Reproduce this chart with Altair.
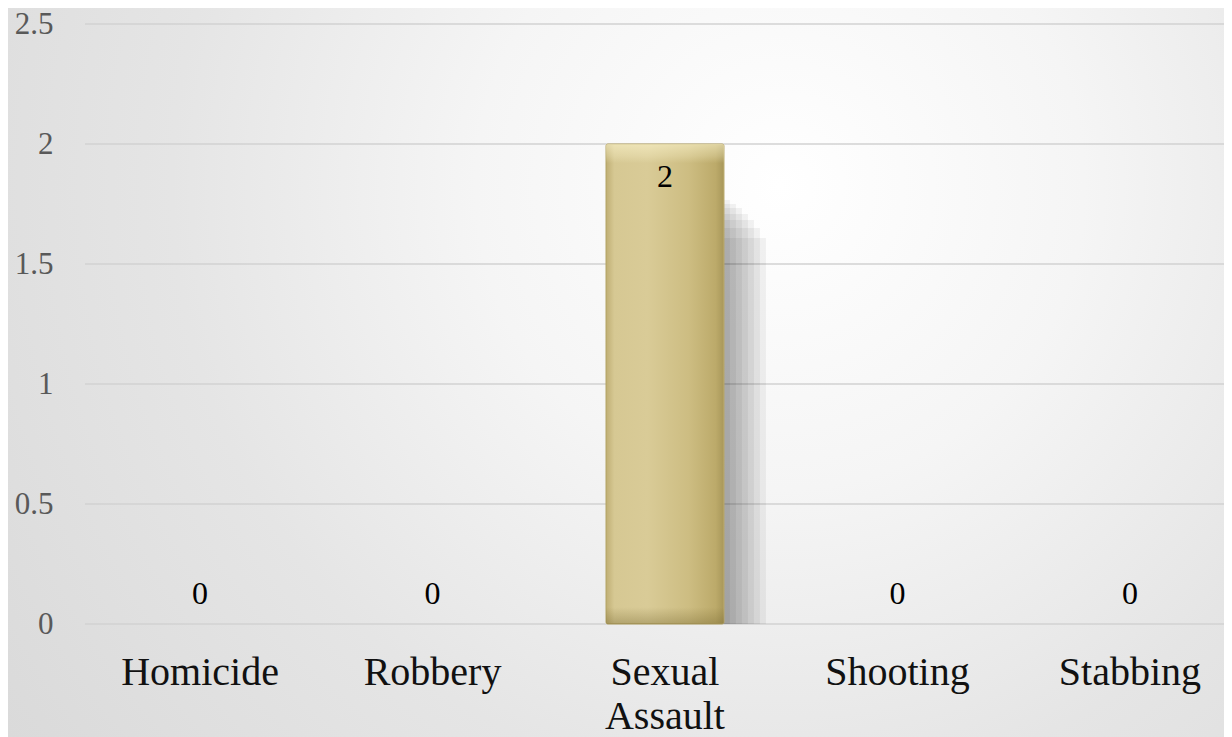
import altair as alt
import pandas as pd

categories = ["Homicide", "Robbery", "Sexual Assault", "Shooting", "Stabbing"]
counts = [0, 0, 2, 0, 0]
y_ticks = [0, 0.5, 1, 1.5, 2, 2.5]

df = pd.DataFrame({"category": categories, "count": counts})
ticks_df = pd.DataFrame({"tick": y_ticks})

W, H = 1139, 600
FONT = "Liberation Serif"

x_enc = alt.X(
    "category:N",
    sort=categories,
    scale=alt.Scale(paddingInner=0.4925, paddingOuter=0.196, align=0.615),
    axis=alt.Axis(
        title=None, labelFont=FONT, labelFontSize=40, labelColor="#111111",
        labelAngle=0, labelPadding=28, labelLineHeight=44,
        labelExpr="split(datum.label, ' ')", domain=False, ticks=False,
        grid=False, labelLimit=400, labelOverlap=False, labelBaseline="top",
        zindex=1,
    ),
)
y_scale = alt.Scale(domain=[0, 2.5])
y_axis = alt.Axis(
    title=None, values=y_ticks, format="~g", labelFont=FONT,
    labelFontSize=31, labelColor="#595959", labelPadding=32,
    domain=False, ticks=False, grid=False, zindex=1,
)
y_enc = alt.Y("count:Q", scale=y_scale, axis=y_axis)

radial = alt.RadialGradient(
    gradient="radial",
    stops=[
        alt.GradientStop(offset=0, color="#ffffff"),
        alt.GradientStop(offset=0.25, color="#f5f5f5"),
        alt.GradientStop(offset=0.5, color="#e5e5e5"),
        alt.GradientStop(offset=0.75, color="#dbdbdb"),
        alt.GradientStop(offset=1, color="#d3d3d3"),
    ],
    x1=0.635, y1=0.346, r1=0, x2=0.635, y2=0.346, r2=1,
)

bg = alt.Chart(alt.Data(values=[{"a": 1}])).mark_rect(fill=radial).encode(
    x=alt.value(-77), x2=alt.value(W), y=alt.value(-16), y2=alt.value(H + 113)
)

grid = alt.Chart(ticks_df).mark_rule(color="#d2d2d2", strokeWidth=1.4).encode(
    y=alt.Y("tick:Q", scale=y_scale, axis=y_axis)
)

base = alt.Chart(df)
nonzero = base.transform_filter("datum.count > 0")

shadow_layers = []
for dx, dy in [(6, 56), (12, 60), (18, 64), (24, 70), (30, 76), (36, 84), (42, 94)]:
    shadow_layers.append(
        nonzero.mark_bar(color="#000000", opacity=0.05, xOffset=dx, yOffset=dy, y2Offset=0)
        .encode(x=x_enc, y=y_enc, y2=alt.datum(0))
    )

gold = alt.LinearGradient(
    gradient="linear",
    stops=[
        alt.GradientStop(offset=0, color="#bfae73"),
        alt.GradientStop(offset=0.07, color="#d6c893"),
        alt.GradientStop(offset=0.35, color="#d9cb97"),
        alt.GradientStop(offset=0.7, color="#cdbd82"),
        alt.GradientStop(offset=0.93, color="#bcaa6a"),
        alt.GradientStop(offset=1, color="#a8975a"),
    ],
    x1=0, x2=1, y1=0, y2=0,
)

bevel = alt.LinearGradient(
    gradient="linear",
    stops=[
        alt.GradientStop(offset=0, color="rgba(255,248,210,0.55)"),
        alt.GradientStop(offset=0.025, color="rgba(255,248,210,0.25)"),
        alt.GradientStop(offset=0.04, color="rgba(255,248,210,0)"),
        alt.GradientStop(offset=0.965, color="rgba(110,95,40,0)"),
        alt.GradientStop(offset=1, color="rgba(110,95,40,0.35)"),
    ],
    x1=0, x2=0, y1=0, y2=1,
)

bars = nonzero.mark_bar(fill=gold, stroke="#b8a769", strokeWidth=1, cornerRadius=2).encode(
    x=x_enc, y=y_enc
)
bars_bevel = nonzero.mark_bar(fill=bevel, cornerRadius=2).encode(x=x_enc, y=y_enc)

labels_pos = nonzero.mark_text(
    dy=33, baseline="middle", font=FONT, fontSize=32, color="#000000"
).encode(x=x_enc, y=y_enc, text="count:Q")

labels_zero = base.transform_filter("datum.count == 0").mark_text(
    dy=-30, baseline="middle", font=FONT, fontSize=32, color="#000000"
).encode(x=x_enc, y=y_enc, text="count:Q")

chart = alt.layer(
    bg, grid, *shadow_layers, bars, bars_bevel, labels_pos, labels_zero
).properties(
    width=W,
    height=H,
    autosize=alt.AutoSizeParams(type="none"),
    padding={"left": 77, "top": 16, "right": 0, "bottom": 113},
).configure(background="#d8d8d8").configure_view(stroke=None)

chart.save("out.html", embed_options={"renderer": "svg", "actions": False})
